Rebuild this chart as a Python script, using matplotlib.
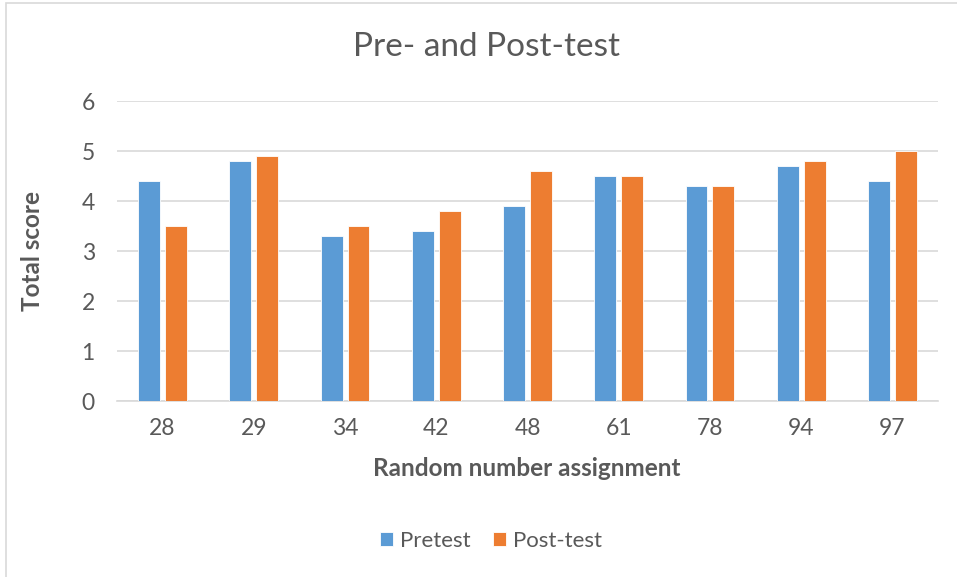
import matplotlib
matplotlib.use("Agg")
import matplotlib.pyplot as plt
import numpy as np
from matplotlib.patches import Rectangle

categories = ["28", "29", "34", "42", "48", "61", "78", "94", "97"]
pretest = [4.4, 4.8, 3.3, 3.4, 3.9, 4.5, 4.3, 4.7, 4.4]
posttest = [3.5, 4.9, 3.5, 3.8, 4.6, 4.5, 4.3, 4.8, 5.0]
yticks = [0, 1, 2, 3, 4, 5, 6]

plt.rcParams['font.family'] = ['Lato', 'DejaVu Sans']
txt = '#595959'
W, H = 957, 577
fig = plt.figure(figsize=(W/100, H/100), dpi=100)
fig.patches.append(Rectangle((6/W, -0.01), 1.0, 1 - 3/H + 0.01, transform=fig.transFigure,
                             fill=False, edgecolor='#D9D9D9', linewidth=1.2))
ax = fig.add_axes([117/W, 176/H, (938-117)/W, 300/H])
x = np.arange(len(categories))
bw = 0.24
off = 0.147
ax.bar(x - off, pretest, bw, color='#5B9BD5', edgecolor='white', linewidth=0.6, label='Pretest', zorder=3)
ax.bar(x + off, posttest, bw, color='#ED7D31', edgecolor='white', linewidth=0.6, label='Post-test', zorder=3)
ax.set_xlim(-0.5, len(categories) - 0.5)
ax.set_ylim(0, 6)
ax.set_yticks(yticks)
ax.set_xticks(x)
ax.set_xticklabels(categories)
ax.grid(axis='y', color='#D9D9D9', linewidth=1.2, zorder=0)
for s in ['top', 'right', 'left']:
    ax.spines[s].set_visible(False)
ax.spines['bottom'].set_color('#D9D9D9')
ax.spines['bottom'].set_linewidth(1.2)
ax.tick_params(axis='both', length=0, labelsize=16.5, colors=txt)
ax.tick_params(axis='x', pad=12)
ax.tick_params(axis='y', pad=16)
fig.text(487/W, 1 - 47/H, 'Pre- and Post-test', ha='center', va='center', fontsize=24, color=txt)
fig.text(32/W, 1 - 251/H, 'Total score', rotation=90, ha='center', va='center', fontsize=17.5, fontweight='bold', color=txt)
fig.text(527/W, 1 - 469/H, 'Random number assignment', ha='center', va='center', fontsize=17.5, fontweight='bold', color=txt)
leg = fig.legend(loc='center', bbox_to_anchor=(491/W, 1 - 541/H), ncol=2, frameon=False,
                 fontsize=16, handlelength=0.6, handleheight=0.6, columnspacing=1.0, handletextpad=0.3)
for t in leg.get_texts():
    t.set_color(txt)
fig.savefig('out.png', dpi=100)
